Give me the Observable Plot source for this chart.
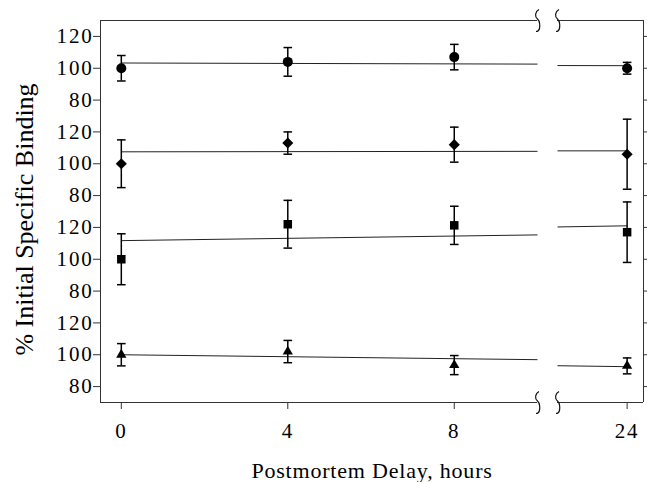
<!DOCTYPE html>
<html>
<head>
<meta charset="utf-8">
<script src="https://cdn.jsdelivr.net/npm/d3@7"></script>
<script src="https://cdn.jsdelivr.net/npm/@observablehq/plot@0.6"></script>
<style>
  html, body { margin: 0; padding: 0; background: #fff; }
  svg text { font-family: "Liberation Serif", "Times New Roman", Times, serif !important; }
</style>
</head>
<body>
<div id="chart"></div>
<script>
// ---- data ----
const hours = [0, 4, 8, 24];

const circleMean   = [100, 104, 107, 100];
const circleErr    = [8, 9, 8, 3.7];
const diamondMean  = [100, 113, 112, 106];
const diamondErr   = [15, 7, 11, 22];
const squareMean   = [100, 122, 121.3, 117];
const squareErr    = [16, 15, 12, 19];
const triangleMean = [100, 102, 93.5, 93];
const triangleErr  = [7, 7, 6, 5];

// regression lines, read at the ends of both axis segments
const fitHours    = [0, 10, 22.3, 24];
const circleFit   = [103.3, 102.6, 101.7, 101.6];
const diamondFit  = [107.5, 107.8, 108.1, 108.1];
const squareFit   = [111.7, 115.3, 120.3, 121];
const triangleFit = [100, 96.9, 93.1, 92.5];

// stacked panels share one continuous y scale
const panelOffsets = [180, 120, 60, 0];
const yTickValues = [80, 100, 120, 140, 160, 180, 200, 220, 240, 260, 280, 300];
const yTickLabels = ["80", "100", "120", "80", "100", "120", "80", "100", "120", "80", "100", "120"];
const xTickValues = [0, 4, 8, 24];
const xTickLabels = ["0", "4", "8", "24"];

// broken x axis
const xDomain = [-0.5, 10, 22.3, 24.4];
const xRange = [100, 537, 557, 643];
const yDomain = [70, 310];
const xSegments = [[xDomain[0], xDomain[1]], [xDomain[2], xDomain[3]]];
const breakHours = [xDomain[1], xDomain[2]];

const seriesMeans = [circleMean, diamondMean, squareMean, triangleMean];
const seriesErrs = [circleErr, diamondErr, squareErr, triangleErr];
const seriesFits = [circleFit, diamondFit, squareFit, triangleFit];
const seriesSymbols = ["circle", "diamond2", "square", "triangle"];
const seriesRadius = [5, 5, 4.8, 3.8];

// ---- tables ----
const points = seriesMeans.map((means, s) => hours.map((h, j) => ({
  s, x: h,
  y: means[j] + panelOffsets[s],
  lo: means[j] - seriesErrs[s][j] + panelOffsets[s],
  hi: means[j] + seriesErrs[s][j] + panelOffsets[s]
})));
const allPoints = points.flat();

const fitLinks = seriesFits.flatMap((f, s) => [
  {x1: fitHours[0], x2: fitHours[1], y1: f[0] + panelOffsets[s], y2: f[1] + panelOffsets[s]},
  {x1: fitHours[2], x2: fitHours[3], y1: f[2] + panelOffsets[s], y2: f[3] + panelOffsets[s]}
]);

const frameEdges = yDomain.flatMap(y => xSegments.map(([a, b]) => ({y, x1: a, x2: b})));
const breakMarks = yDomain.flatMap(y => breakHours.map(x => ({x, y})));

// custom symbols
const capSymbol = {
  draw(ctx, size) { const r = Math.sqrt(size / Math.PI); ctx.moveTo(-r, 0); ctx.lineTo(r, 0); }
};
const breakSymbol = {
  draw(ctx) {
    ctx.moveTo(1.5, -11);
    ctx.bezierCurveTo(-2.5, -9, -3, -4, 0, -1.5);
    ctx.bezierCurveTo(2.5, 0.5, 2.5, 6, 2, 8);
    ctx.bezierCurveTo(1.5, 10, 0, 11, -1.5, 11);
  }
};

const serif = "\"Liberation Serif\", \"Times New Roman\", Times, serif";

const marks = [
  // frame with gap at the axis break
  Plot.ruleX([xDomain[0], xDomain[3]], {stroke: "#333", strokeWidth: 1}),
  Plot.ruleY(frameEdges, {y: "y", x1: "x1", x2: "x2", stroke: "#333", strokeWidth: 1}),
  Plot.dot(breakMarks, {x: "x", y: "y", symbol: breakSymbol, r: 5, fill: "none", stroke: "#111", strokeWidth: 1.2}),
  // axes
  Plot.axisY({anchor: "left", ticks: yTickValues, tickFormat: (d) => yTickLabels[yTickValues.indexOf(d)],
    tickSize: 7, tickPadding: 0, stroke: "#333", fill: "black", label: null, fontSize: 21, fontFamily: serif}),
  Plot.axisY({anchor: "right", ticks: yTickValues, tickFormat: () => "", tickSize: 7, stroke: "#333", label: null}),
  Plot.axisX({anchor: "bottom", ticks: xTickValues, tickFormat: (d) => xTickLabels[xTickValues.indexOf(d)],
    tickSize: 7, tickPadding: 14, stroke: "#333", fill: "black", label: null, fontSize: 21, fontFamily: serif}),
  // regression lines
  Plot.link(fitLinks, {x1: "x1", y1: "y1", x2: "x2", y2: "y2", stroke: "#222", strokeWidth: 1}),
  // error bars
  Plot.ruleX(allPoints, {x: "x", y1: "lo", y2: "hi", stroke: "black", strokeWidth: 1.5}),
  Plot.dot(allPoints, {x: "x", y: "lo", symbol: capSymbol, r: 4.3, fill: "none", stroke: "black", strokeWidth: 1.5}),
  Plot.dot(allPoints, {x: "x", y: "hi", symbol: capSymbol, r: 4.3, fill: "none", stroke: "black", strokeWidth: 1.5}),
  // markers
  ...points.map((pts, s) => Plot.dot(pts, {x: "x", y: "y", symbol: seriesSymbols[s], r: seriesRadius[s], fill: "black", stroke: "none"})),
  // axis titles
  Plot.text(["Postmortem Delay, hours"], {frameAnchor: "bottom", lineAnchor: "bottom", textAnchor: "middle", dy: 75, fontSize: 22, fontFamily: serif, fill: "black"}),
  Plot.text(["% Initial Specific Binding"], {frameAnchor: "left", rotate: -90, lineAnchor: "bottom", textAnchor: "middle", dx: -68, dy: 8, fontSize: 26, fontFamily: serif, fill: "black"})
];

const chart = Plot.plot({
  width: 647,
  height: 482,
  marginLeft: 100,
  marginRight: 4,
  marginTop: 20,
  marginBottom: 80,
  style: "font-family: " + serif + "; font-size: 21px; background: white; color: black;",
  x: {type: "linear", domain: xDomain, range: xRange},
  y: {type: "linear", domain: yDomain},
  marks
});

// widen glyph spacing to match the reference's stretched type
chart.querySelectorAll("text").forEach(t => {
  const s = t.textContent;
  t.setAttribute("font-family", serif);
  if (s.startsWith("%")) t.setAttribute("letter-spacing", "0");
  else if (s.startsWith("Postmortem")) t.setAttribute("letter-spacing", "0.8px");
  else t.setAttribute("letter-spacing", "1.8px");
});

document.getElementById("chart").appendChild(chart);
</script>
</body>
</html>
